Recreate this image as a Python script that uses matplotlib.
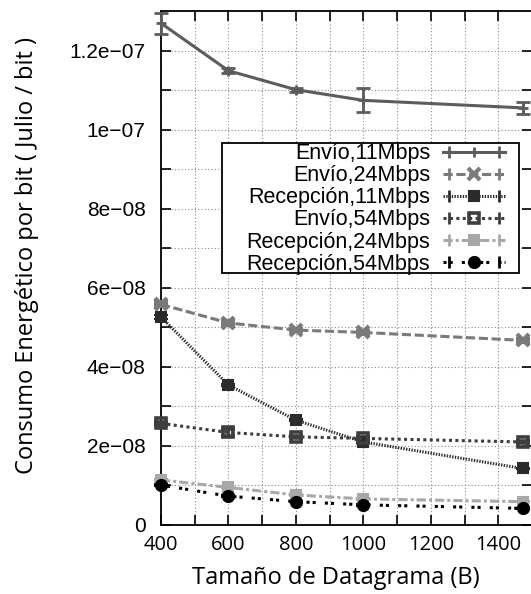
import numpy as np
import matplotlib
matplotlib.use("Agg")
import matplotlib.pyplot as plt
from matplotlib.lines import Line2D
from matplotlib.patches import Rectangle
from matplotlib.legend_handler import HandlerLine2D, HandlerTuple

# tamaños de datagrama (B)
tam = [400, 600, 800, 1000, 1472]

# consumo energetico por bit (J/bit) y error de cada serie
envio_11 = [1.269e-07, 1.149e-07, 1.101e-07, 1.074e-07, 1.055e-07]
envio_11_err = [2.7e-09, 0.7e-09, 0.5e-09, 3.0e-09, 1.6e-09]
envio_24 = [5.58e-08, 5.11e-08, 4.93e-08, 4.87e-08, 4.67e-08]
envio_24_err = [0.5e-09, 0.4e-09, 0.3e-09, 0.3e-09, 0.3e-09]
recep_11 = [5.26e-08, 3.54e-08, 2.65e-08, 2.10e-08, 1.43e-08]
recep_11_err = [0.6e-09, 0.3e-09, 0.3e-09, 0.3e-09, 0.2e-09]
envio_54 = [2.57e-08, 2.34e-08, 2.23e-08, 2.19e-08, 2.10e-08]
envio_54_err = [0.3e-09, 1.0e-09, 0.3e-09, 0.3e-09, 0.2e-09]
recep_24 = [1.14e-08, 0.95e-08, 0.76e-08, 0.66e-08, 0.59e-08]
recep_24_err = [0.3e-09, 0.2e-09, 0.2e-09, 0.2e-09, 0.2e-09]
recep_54 = [1.01e-08, 0.73e-08, 0.59e-08, 0.51e-08, 0.42e-08]
recep_54_err = [0.3e-09, 0.2e-09, 0.2e-09, 0.2e-09, 0.2e-09]

nombres = ['Envío,11Mbps', 'Envío,24Mbps', 'Recepción,11Mbps',
           'Envío,54Mbps', 'Recepción,24Mbps', 'Recepción,54Mbps']

yticks = [0, 2e-08, 4e-08, 6e-08, 8e-08, 1e-07, 1.2e-07]
ytick_labels = ['0', '2e−08', '4e−08', '6e−08', '8e−08', '1e−07', '1.2e−07']
xticks = [400, 600, 800, 1000, 1200, 1400]

series = [envio_11, envio_24, recep_11, envio_54, recep_24, recep_54]
errores = [envio_11_err, envio_24_err, recep_11_err, envio_54_err, recep_24_err, recep_54_err]

# estilo de cada serie: color, linea, marcador
estilos = [
    dict(color='#5c5c5c', ls='-', marker='+', ms=7, mew=2.0, mfc='#5c5c5c'),
    dict(color='#7a7a7a', ls=(0, (3, 1.2)), marker='x', ms=8, mew=3.0, mfc='#7a7a7a'),
    dict(color='#2b2b2b', ls=(0, (0.45, 0.45)), marker='s', ms=7, mew=1.5, mfc='#2b2b2b'),
    dict(color='#3e3e3e', ls=(0, (1, 1.1)), marker='s', ms=7.5, mew=2.6, mfc='none'),
    dict(color='#a8a8a8', ls=(0, (3, 1, 1, 1)), marker='s', ms=7, mew=1.5, mfc='#a8a8a8'),
    dict(color='#000000', ls=(0, (1, 1, 1, 3)), marker='o', ms=8, mew=1.5, mfc='#000000'),
]

fig = plt.figure(figsize=(5.31, 5.94), dpi=100)
ax = fig.add_axes([161 / 531, 69 / 594, 371 / 531, 514 / 594])

handles = []
handler_map = {tuple: HandlerTuple(ndivide=1, pad=0)}
for y, err, st in zip(series, errores, estilos):
    ax.errorbar(tam, y, yerr=err, color=st['color'], ls=st['ls'], lw=2.2,
                marker=st['marker'], ms=st['ms'], mew=st['mew'], mfc=st['mfc'],
                mec=st['color'], ecolor=st['color'], elinewidth=2.0,
                capsize=5, capthick=2.0, zorder=3, clip_on=False)
    linea = Line2D([], [], color=st['color'], ls=st['ls'], lw=2.2,
                   marker=st['marker'], ms=st['ms'], mew=st['mew'],
                   mfc=st['mfc'], mec=st['color'])
    topes = Line2D([], [], color=st['color'], ls='none', marker='|',
                   ms=8, mew=2.0)
    handler_map[topes] = HandlerLine2D(numpoints=2)
    handles.append((linea, topes))

ax.set_xlim(400, 1500)
ax.set_ylim(0, 1.3e-07)
ax.set_xticks(xticks)
ax.set_xticks(np.arange(500, 1500, 200), minor=True)
ax.set_yticks(yticks)
ax.set_yticklabels(ytick_labels)
ax.set_yticks(np.arange(1e-08, 1.3e-07, 2e-08), minor=True)

ax.grid(True, which='both', color='#8a8a8a', ls=(0, (1, 2)), lw=0.8)
ax.set_axisbelow(True)

ax.tick_params(which='both', direction='in', top=True, right=True,
               length=7, width=1.2, color='black')
ax.tick_params(axis='y', pad=11, labelsize=15)
ax.tick_params(axis='x', pad=7, labelsize=14.5)
for t in ax.get_yticklabels():
    t.set_fontfamily('Liberation Sans')
for t in ax.get_xticklabels():
    t.set_fontfamily('Open Sans')
for sp in ax.spines.values():
    sp.set_linewidth(1.3)

ax.set_xlabel('Tamaño de Datagrama (B)', fontfamily='Open Sans', fontsize=17)
ax.set_ylabel('Consumo Energético por bit ( Julio / bit )', fontfamily='Open Sans',
              fontsize=17)
ax.xaxis.set_label_coords(0.47, -0.08)
ax.yaxis.set_label_coords(-0.33, 0.525)

# caja de la leyenda, con mas margen a la izquierda que a la derecha
caja = Rectangle((0.1647, 0.4903), 0.7991, 0.2529, transform=ax.transAxes,
                 facecolor='white', edgecolor='black', lw=1.3, zorder=4,
                 clip_on=False)
ax.add_patch(caja)

leg = ax.legend(handles, nombres, handler_map=handler_map,
                loc='upper right', bbox_to_anchor=(0.937, 0.749), borderaxespad=0,
                markerfirst=False, numpoints=1, handlelength=2.9, handletextpad=0.6,
                labelspacing=0.05, borderpad=0.15, frameon=False,
                prop={'family': 'Liberation Sans', 'size': 15.5})
leg.set_zorder(5)

fig.savefig('out.png', dpi=100)
